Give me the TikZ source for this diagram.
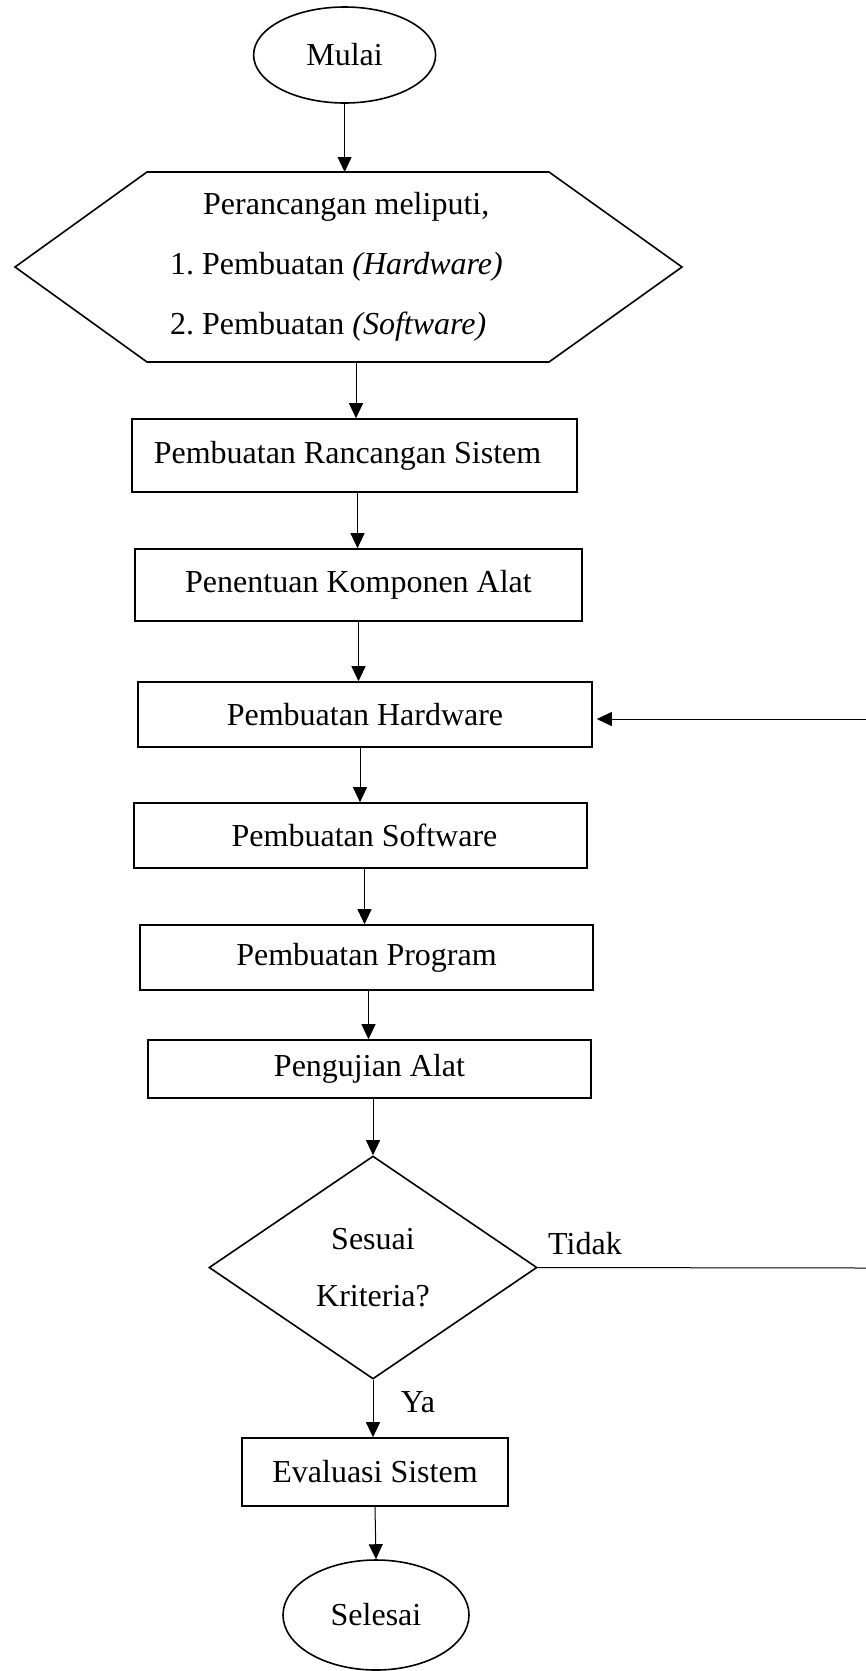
\documentclass[tikz,border=0pt]{standalone}
\usepackage{fontspec}
\setmainfont{Liberation Serif}
\frenchspacing
\usetikzlibrary{shapes.geometric,arrows.meta}
\tikzset{
  every node/.style={font=\fontsize{32}{38}\selectfont, inner sep=0pt},
  procbox/.style={draw, line width=1.6pt, rectangle},
  termnode/.style={draw, line width=1.6pt, ellipse},
  decnode/.style={draw, line width=1.6pt, diamond, align=center, font=\fontsize{32}{57}\selectfont},
  arr/.style={line width=1pt, -{Triangle[length=15pt,width=14pt]}},
  plainline/.style={line width=1pt},
  lbl/.style={font=\fontsize{32}{38}\selectfont}
}
\begin{document}
\begin{tikzpicture}[x=1pt,y=-1pt]
\useasboundingbox (0,0) rectangle (866,1671);
% terminals
\node[termnode, minimum width=182pt, minimum height=96pt] (mulai) at (344.6,55) {Mulai};
\node[termnode, minimum width=186pt, minimum height=110pt] (selesai) at (376,1615) {Selesai};
% hexagon (preparation)
\draw[line width=1.6pt] (147,172) -- (549,172) -- (682,267) -- (549,362) -- (147,362) -- (15,267) -- cycle;
\coordinate (hexTop) at (344.6,172);
\coordinate (hexBot) at (356,362);
\node[align=left, font=\fontsize{32}{60}\selectfont] (hex) at (336.5,267)
  {\hspace*{33pt}Perancangan meliputi,\\1. Pembuatan \textit{(Hardware)}\\2. Pembuatan \textit{(Software)}};
% process boxes
\node[procbox, minimum width=445pt, minimum height=73pt] (b1) at (354.5,455.5) {Pembuatan Rancangan Sistem\hspace*{14pt}};
\node[procbox, minimum width=447pt, minimum height=72pt] (b2) at (358.5,585) {Penentuan Komponen Alat};
\node[procbox, minimum width=454pt, minimum height=65pt] (b3) at (365,714.5) {Pembuatan Hardware};
\node[procbox, minimum width=453pt, minimum height=65pt] (b4) at (360.5,835.5) {\hspace*{8pt}Pembuatan Software};
\node[procbox, minimum width=453pt, minimum height=65pt] (b5) at (366.5,957.5) {Pembuatan Program};
\node[procbox, minimum width=443pt, minimum height=58pt] (b6) at (369.5,1069) {Pengujian Alat};
\node[decnode, minimum width=328pt, minimum height=223pt] (dec) at (373,1267.5) {Sesuai\\Kriteria?};
\node[procbox, minimum width=266pt, minimum height=68pt] (b7) at (375,1472) {Evaluasi Sistem};
% labels
\node[lbl] (tidak) at (585,1244) {Tidak};
\node[lbl] (ya) at (418,1402) {Ya};
% right edge coordinates of the loop
\coordinate (loopLow) at (866,1268);
\coordinate (loopHigh) at (866,719);
% connectors
\draw[arr] (mulai.south) -- (hexTop);
\draw[arr] (hexBot) -- (hexBot |- b1.north);
\draw[arr] ([xshift=3pt]b1.south) -- ([xshift=3pt]b1.south |- b2.north);
\draw[arr] (b2.south) -- (b2.south |- b3.north);
\draw[arr] ([xshift=-5pt]b3.south) -- ([xshift=-5pt]b3.south |- b4.north);
\draw[arr] ([xshift=4pt]b4.south) -- ([xshift=4pt]b4.south |- b5.north);
\draw[arr] ([xshift=2pt]b5.south) -- ([xshift=2pt]b5.south |- b6.north);
\draw[arr] ([xshift=3.5pt]b6.south) -- (dec.north);
\draw[arr] (dec.south) -- (dec.south |- b7.north);
\draw[arr] (b7.south) -- (selesai.north);
\draw[plainline] (dec.east) -- (loopLow);
\draw[arr, shorten >=4pt] (loopHigh) -- (loopHigh -| b3.east);
\end{tikzpicture}
\end{document}
